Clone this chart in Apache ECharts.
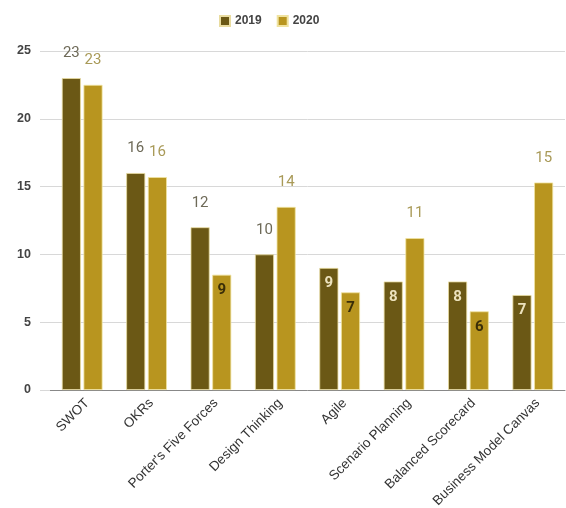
<!DOCTYPE html>
<html>
<head>
<meta charset="utf-8">
<script src="https://cdn.jsdelivr.net/npm/echarts@6/dist/echarts.min.js"></script>
<style>html,body{margin:0;padding:0;background:#fff}#c{width:566px;height:508px}</style>
</head>
<body>
<div id="c"></div>
<script>
const categories = ['SWOT', 'OKRs', "Porter's Five Forces", 'Design Thinking', 'Agile', 'Scenario Planning', 'Balanced Scorecard', 'Business Model Canvas'];
const seriesNames = ['2019', '2020'];
const values2019 = [23, 16, 12, 10, 9, 8, 8, 7];
const values2020 = [22.5, 15.7, 8.5, 13.5, 7.2, 11.2, 5.8, 15.3];
const yTicks = [0, 5, 10, 15, 20, 25];

const col2019 = '#6b5815';
const col2020 = '#b8951f';

function items(vals, topColor, insideColor) {
  return vals.map(v => ({
    value: v,
    label: v < 10
      ? { show: true, position: 'insideTop', distance: 8, color: insideColor, fontSize: 15, fontWeight: 'bold', fontFamily: 'Roboto' }
      : { show: true, position: 'top', distance: 17, color: topColor, fontSize: 15, fontFamily: 'Roboto' }
  }));
}

const chart = echarts.init(document.getElementById('c'), null, { renderer: 'canvas' });
chart.setOption({
  animation: false,
  backgroundColor: '#fff',
  legend: {
    left: 214, top: 10,
    itemWidth: 10, itemHeight: 10, itemGap: 15,
    icon: 'rect',
    textStyle: { color: '#444', fontSize: 12, fontFamily: 'Liberation Sans', fontWeight: 'bold' },
    data: seriesNames
  },
  grid: { left: 50, right: 1, top: 51, bottom: 118, outerBoundsMode: 'none', containLabel: false },
  xAxis: {
    type: 'category',
    data: categories,
    axisLine: { lineStyle: { color: '#888', width: 1 } },
    axisTick: { show: false },
    axisLabel: { rotate: 45, interval: 0, margin: 6, verticalAlign: 'top', color: '#333', fontSize: 13.5, fontFamily: 'Liberation Sans' }
  },
  yAxis: {
    type: 'value',
    min: yTicks[0], max: yTicks[yTicks.length - 1], interval: 5,
    axisLine: { show: false },
    axisTick: { show: true, length: 10, lineStyle: { color: '#d8d8d8' } },
    splitLine: { lineStyle: { color: '#d8d8d8' } },
    axisLabel: { margin: 19, color: '#444', fontSize: 12.5, fontWeight: 'bold', fontFamily: 'Liberation Sans' }
  },
  series: [
    {
      name: seriesNames[0], type: 'bar', barWidth: 19, barGap: '14%',
      itemStyle: { color: col2019, borderColor: '#e9dca0', borderWidth: 0.8 },
      data: items(values2019, '#6e6a58', '#ece2bd'),
      label: { formatter: p => Math.round(p.value) }
    },
    {
      name: seriesNames[1], type: 'bar', barWidth: 19,
      itemStyle: { color: col2020, borderColor: '#f0e3a0', borderWidth: 0.8 },
      data: items(values2020, '#a99a58', '#3a2e08'),
      label: { formatter: p => Math.round(p.value) }
    }
  ]
});
</script>
</body>
</html>
